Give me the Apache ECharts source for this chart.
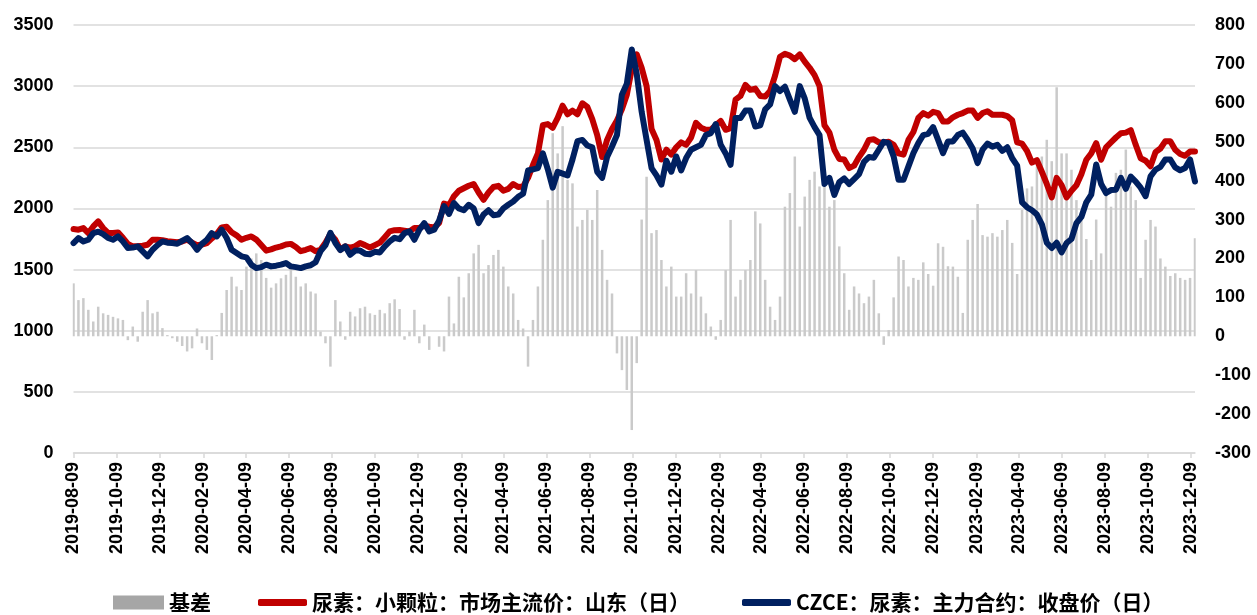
<!DOCTYPE html>
<html><head><meta charset="utf-8">
<script src="https://cdn.jsdelivr.net/npm/echarts@6/dist/echarts.min.js"></script>
<style>html,body{margin:0;padding:0;background:#fff}#c{width:1257px;height:615px}</style>
</head><body><div id="c"></div>
<script>
// Axis range (calendar days) and weekly sampling of the read-off values
const startDate = '2019-08-09';
const endDate = '2023-12-15';
const sampleStepDays = 7;

// 尿素：小颗粒：市场主流价：山东（日） — weekly readings (left axis)
const spot = [
1831,1826,1839,1798,1853,1894,1839,1800,1800,1804,
1760,1710,1690,1690,1695,1703,1744,1744,1740,1732,
1728,1724,1730,1744,1720,1700,1705,1717,1755,1790,
1845,1850,1805,1780,1744,1760,1771,1745,1700,1655,
1665,1680,1690,1705,1710,1685,1650,1662,1676,1650,
1662,1720,1790,1744,1662,1690,1680,1690,1717,1700,
1680,1700,1720,1765,1812,1822,1824,1818,1812,1840,
1840,1860,1850,1845,1880,2040,2025,2100,2145,2165,
2185,2200,2130,2070,2130,2175,2185,2145,2160,2200,
2175,2180,2250,2355,2450,2680,2690,2660,2740,2840,
2770,2800,2770,2860,2830,2730,2600,2420,2560,2650,
2720,2810,2930,3140,3260,3150,3000,2650,2560,2400,
2480,2440,2500,2540,2520,2580,2700,2660,2643,2643,
2680,2715,2643,2657,2889,2920,3010,2970,2980,2920,
2915,2960,3085,3240,3265,3250,3220,3260,3200,3150,
3090,3000,2680,2620,2480,2405,2400,2330,2350,2420,
2480,2560,2565,2540,2540,2545,2520,2450,2440,2560,
2625,2740,2780,2758,2790,2780,2710,2710,2745,2766,
2780,2800,2800,2740,2780,2795,2766,2766,2766,2755,
2720,2540,2530,2470,2375,2395,2300,2200,2090,2250,
2190,2090,2145,2190,2280,2398,2450,2534,2398,2500,
2540,2580,2615,2620,2640,2520,2410,2390,2344,2460,
2490,2550,2550,2480,2445,2430,2466,2466
];

// CZCE：尿素：主力合约：收盘价（日） — weekly readings (left axis)
const futures = [
1717,1758,1730,1744,1798,1810,1790,1758,1744,1771,
1730,1676,1680,1690,1649,1608,1662,1700,1730,1720,
1717,1711,1735,1758,1717,1662,1710,1744,1798,1771,
1826,1758,1662,1635,1608,1600,1540,1512,1520,1540,
1526,1532,1540,1553,1526,1520,1512,1526,1535,1560,
1650,1700,1800,1717,1660,1690,1621,1655,1655,1630,
1625,1645,1640,1690,1730,1760,1748,1798,1812,1744,
1826,1880,1812,1826,1900,2020,1955,2044,2000,1985,
2030,2000,1880,1950,1985,1945,1950,2000,2030,2057,
2095,2120,2310,2320,2330,2450,2320,2170,2300,2285,
2270,2400,2550,2560,2515,2500,2300,2250,2420,2507,
2600,2930,3020,3300,3100,2790,2560,2330,2270,2194,
2390,2300,2425,2310,2412,2480,2500,2520,2600,2616,
2690,2520,2450,2357,2739,2739,2800,2800,2670,2680,
2810,2850,3000,2960,2995,2890,2790,3000,2900,2740,
2665,2600,2200,2250,2110,2215,2245,2200,2240,2280,
2380,2420,2415,2480,2545,2534,2425,2234,2234,2344,
2452,2534,2600,2610,2665,2561,2452,2548,2548,2600,
2620,2560,2490,2371,2480,2530,2505,2520,2470,2500,
2410,2350,2050,2010,1985,1950,1870,1720,1676,1720,
1640,1717,1750,1880,1930,2050,2112,2360,2200,2126,
2150,2153,2250,2160,2260,2220,2170,2100,2262,2316,
2340,2400,2400,2335,2312,2330,2400,2220
];

// 基差 — weekly readings (right axis)
const basis = [
136,93,98,68,38,76,59,55,50,46,
42,-10,25,-14,63,93,59,63,21,3,
-5,-14,-25,-39,-31,20,-18,-35,-61,3,
60,119,153,128,119,179,200,213,196,150,
125,136,149,158,175,153,128,136,115,110,
12,-18,-78,93,38,-9,63,51,72,76,
59,55,68,59,85,95,70,-9,12,68,
-18,30,-35,0,-27,-39,102,33,153,100,
162,213,235,162,183,209,222,179,128,110,
42,20,-78,42,128,248,350,522,470,540,
402,393,282,299,325,299,376,222,145,110,
-44,-87,-138,-241,-69,300,410,265,273,196,
128,179,102,102,162,110,170,102,59,25,
-9,42,170,299,102,145,170,196,321,290,
145,76,42,102,333,368,462,282,359,402,
423,385,410,333,350,231,162,68,128,110,
85,102,145,59,-22,16,100,205,196,128,
150,145,190,160,130,239,230,180,179,153,
60,248,299,340,260,256,265,256,273,299,
240,160,325,380,385,436,462,505,450,640,
470,470,428,350,299,250,196,300,213,385,
333,420,428,480,385,350,150,248,299,282,
200,179,155,162,150,145,150,252
];

const seriesNames = ['基差','尿素：小颗粒：市场主流价：山东（日）','CZCE：尿素：主力合约：收盘价（日）'];

const DAY = 86400000;
const fmt = t => new Date(t).toISOString().slice(0,10);
const t0 = Date.parse(startDate + 'T00:00:00Z');
const t1 = Date.parse(endDate + 'T00:00:00Z');
const days = [];
for (let t = t0; t <= t1; t += DAY) days.push(fmt(t));
const dayIndex = {};
days.forEach((d,i) => dayIndex[d] = i);
const sampleDates = spot.map((_,k) => fmt(t0 + k * sampleStepDays * DAY));
const pairs = arr => sampleDates.map((d,i) => [dayIndex[d], arr[i]]);

const showLabel = (idx, val) => val.slice(8) === '09' && parseInt(val.slice(5,7),10) % 2 === 0;
const txt = {color:'#000', fontSize:18, fontWeight:'bold', fontFamily:'"Liberation Sans", Arial, sans-serif'};
const legendText = {color:'#000', fontSize:21, fontWeight:'bold', fontFamily:'"Noto Sans CJK SC", sans-serif'};

const chart = echarts.init(document.getElementById('c'), null, {renderer:'canvas'});
chart.setOption({
  animation:false,
  backgroundColor:'#fff',
  grid:{left:73.5, right:62, top:25, bottom:162, containLabel:false},
  legend:[
    {left:108, top:587, itemWidth:51, itemHeight:14, textStyle:legendText,
     data:[{name:seriesNames[0], icon:'rect', itemStyle:{color:'#A6A6A6'}}]},
    {left:253, top:587, itemWidth:49, itemHeight:7, itemGap:52, textStyle:legendText, icon:'roundRect',
     data:[{name:seriesNames[1]}, {name:seriesNames[2]}]}
  ],
  xAxis:{
    type:'category', data:days, boundaryGap:false,
    axisLine:{lineStyle:{color:'#D9D9D9', width:1.5}},
    axisTick:{interval:showLabel, length:5, lineStyle:{color:'#D9D9D9', width:1.5}},
    axisLabel:Object.assign({interval:showLabel, rotate:90, margin:9}, txt),
    splitLine:{show:false}
  },
  yAxis:[
    {type:'value', min:0, max:3500, interval:500,
     axisLine:{show:false}, axisTick:{show:false},
     axisLabel:Object.assign({margin:20, formatter:v => String(v)}, txt),
     splitLine:{lineStyle:{color:'#D9D9D9', width:1.5}}},
    {type:'value', min:-300, max:800, interval:100,
     axisLine:{show:false}, axisTick:{show:false},
     axisLabel:Object.assign({margin:20, formatter:v => String(v)}, txt),
     splitLine:{show:false}}
  ],
  series:[
    {name:seriesNames[0], type:'bar', yAxisIndex:1, data:pairs(basis), barWidth:2.5,
     itemStyle:{color:'#CACACA'}},
    {name:seriesNames[1], type:'line', yAxisIndex:0, data:pairs(spot), symbol:'none',
     lineStyle:{color:'#C00000', width:6, cap:'round', join:'round'}, itemStyle:{color:'#C00000'}},
    {name:seriesNames[2], type:'line', yAxisIndex:0, data:pairs(futures), symbol:'none',
     lineStyle:{color:'#002060', width:6, cap:'round', join:'round'}, itemStyle:{color:'#002060'}}
  ]
});
</script></body></html>
